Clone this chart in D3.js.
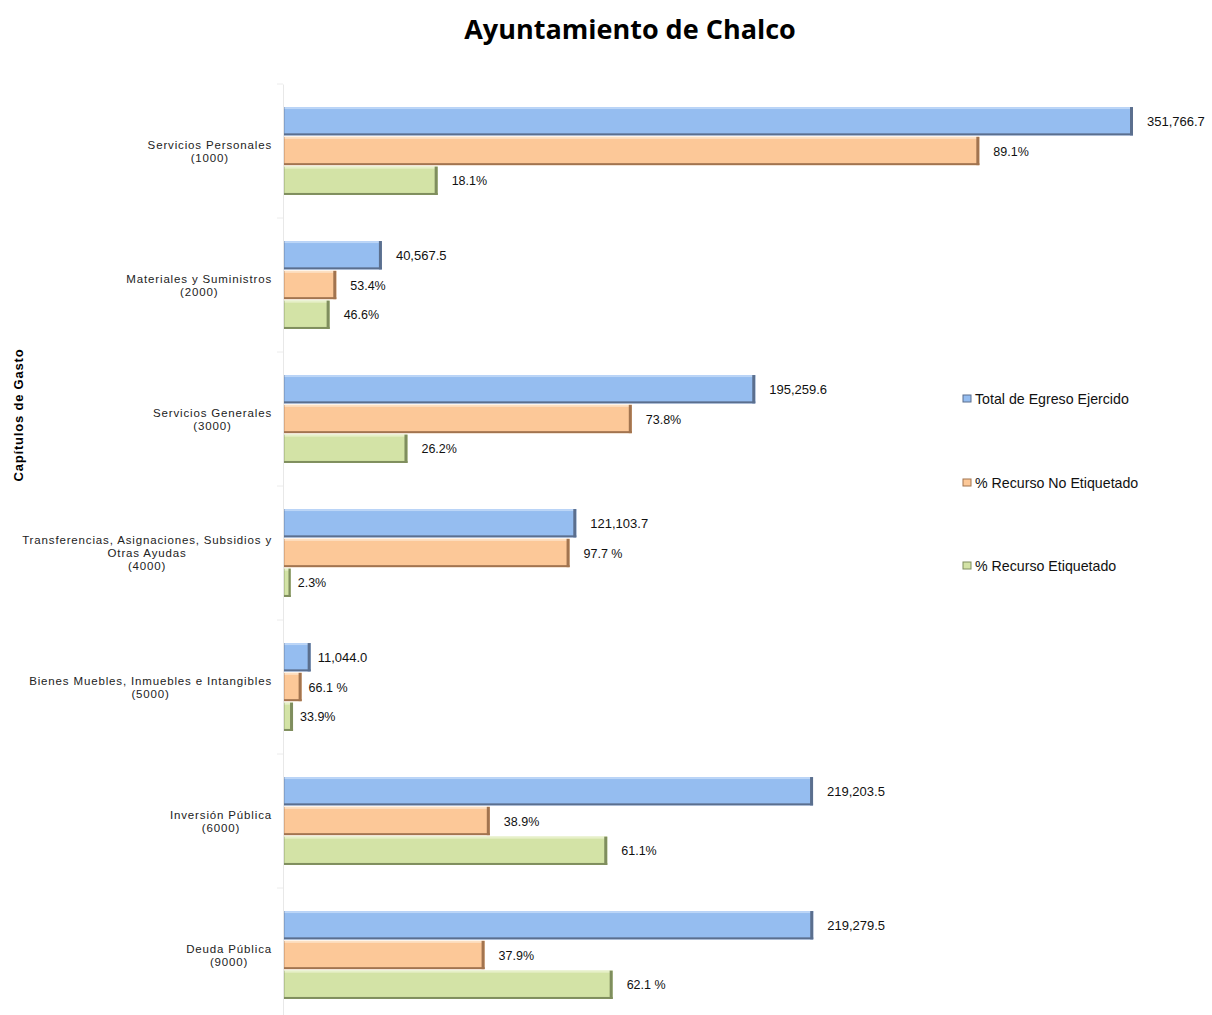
<!DOCTYPE html>
<html>
<head>
<meta charset="utf-8">
<script src="https://cdn.jsdelivr.net/npm/d3@7"></script>
<style>
  html, body { margin: 0; padding: 0; background: #ffffff; }
  svg { display: block; }
</style>
</head>
<body>
<svg id="chart" width="1212" height="1015"></svg>
<script>
// ---------- DATA ----------
const categories = [
  "Servicios Personales|(1000)",
  "Materiales y Suministros|(2000)",
  "Servicios Generales|(3000)",
  "Transferencias, Asignaciones, Subsidios y|Otras Ayudas|(4000)",
  "Bienes Muebles, Inmuebles e Intangibles|(5000)",
  "Inversión Pública|(6000)",
  "Deuda Pública|(9000)"
];
const seriesNames = ["Total de Egreso Ejercido", "% Recurso No Etiquetado", "% Recurso Etiquetado"];
// Total expenditure (thousands of pesos)
const totalEgreso = [351766.7, 40567.5, 195259.6, 121103.7, 11044.0, 219203.5, 219279.5];
// share of total drawn as bar length (percent of total)
const pctNoEtiquetado = [81.9, 53.4, 73.8, 97.7, 66.1, 38.9, 37.9];
const pctEtiquetado = [18.1, 46.6, 26.2, 2.3, 33.9, 61.1, 62.1];
// labels as printed
const labelsTotal = ["351,766.7", "40,567.5", "195,259.6", "121,103.7", "11,044.0", "219,203.5", "219,279.5"];
const labelsNoEtiquetado = ["89.1%", "53.4%", "73.8%", "97.7 %", "66.1 %", "38.9%", "37.9%"];
const labelsEtiquetado = ["18.1%", "46.6%", "26.2%", "2.3%", "33.9%", "61.1%", "62.1 %"];
const chartTitle = "Ayuntamiento de Chalco";
const yAxisTitle = "Capítulos de Gasto";

// ---------- LAYOUT ----------
const svg = d3.select("#chart");
const colors = [
  {fill: "#95bdf0", light: "#bcd6f7", dark: "#5b6f8e"},
  {fill: "#fcc898", light: "#fde0c2", dark: "#a2744f"},
  {fill: "#d3e3a6", light: "#e6f0c8", dark: "#7f8e5e"}
];

const plotLeft = 284, plotRight = 1133, plotTop = 84, plotBottom = 1022;
const x = d3.scaleLinear().domain([0, d3.max(totalEgreso)]).range([plotLeft, plotRight]);
const y = d3.scaleBand().domain(categories).range([plotTop, plotBottom]).padding(0);
const ySub = d3.scaleBand().domain(seriesNames)
  .range([y.bandwidth() * 0.172, y.bandwidth() * 0.828]).paddingInner(0.05);

const rows = categories.map((c, i) => ({
  cat: c,
  bars: [
    {s: seriesNames[0], v: totalEgreso[i], label: labelsTotal[i], k: 0},
    {s: seriesNames[1], v: totalEgreso[i] * pctNoEtiquetado[i] / 100, label: labelsNoEtiquetado[i], k: 1},
    {s: seriesNames[2], v: totalEgreso[i] * pctEtiquetado[i] / 100, label: labelsEtiquetado[i], k: 2}
  ]
}));

// title
svg.append("text")
  .attr("x", 630).attr("y", 39)
  .attr("text-anchor", "middle")
  .attr("font-family", "'Open Sans', sans-serif")
  .attr("font-weight", "bold")
  .attr("font-size", 27)
  .attr("fill", "#000")
  .text(chartTitle);

// y axis title
svg.append("text")
  .attr("transform", "translate(23,415) rotate(-90)")
  .attr("text-anchor", "middle")
  .attr("font-family", "'Liberation Sans', Arial, sans-serif")
  .attr("font-weight", "bold")
  .attr("font-size", 13)
  .attr("letter-spacing", 0.8)
  .attr("fill", "#000")
  .text(yAxisTitle);

// axis line
const axisG = svg.append("g").attr("transform", `translate(${plotLeft - 1},0)`);
const yAxis = d3.axisLeft(y).tickSize(0).tickFormat("");
axisG.call(yAxis);
axisG.select(".domain").attr("stroke", "#e8e8e8").attr("stroke-width", 1);
// boundary tick marks between categories
const bounds = categories.map(c => y(c)).concat([plotBottom]);
axisG.selectAll("line.bt").data(bounds).join("line")
  .attr("class", "bt")
  .attr("x1", -6).attr("x2", 0)
  .attr("y1", d => d).attr("y2", d => d)
  .attr("stroke", "#ececec");

// category labels
const labG = svg.append("g");
rows.forEach(r => {
  const lines = r.cat.split("|");
  const cy = y(r.cat) + y.bandwidth() / 2;
  const lh = 13;
  const t = labG.append("text")
    .attr("font-family", "'Liberation Sans', Arial, sans-serif")
    .attr("font-size", 11.5)
    .attr("letter-spacing", 0.85)
    .attr("fill", "#222")
    .attr("text-anchor", "middle");
  lines.forEach((ln, j) => {
    t.append("tspan")
      .attr("y", cy - (lines.length - 1) * lh / 2 + j * lh + 4)
      .text(ln);
  });
  // compute widest line to right-align the block at x=272
  let maxW = 0;
  t.selectAll("tspan").each(function () { maxW = Math.max(maxW, this.getComputedTextLength()); });
  t.selectAll("tspan").attr("x", 272 - maxW / 2);
});

// bars
const groups = svg.append("g").selectAll("g.row").data(rows).join("g")
  .attr("class", "row")
  .attr("transform", d => `translate(0,${y(d.cat)})`);

groups.each(function (r) {
  const g = d3.select(this);
  r.bars.forEach(b => {
    const c = colors[b.k];
    const by = ySub(b.s), bh = ySub.bandwidth();
    const bx = x(0), bw = x(b.v) - x(0);
    g.append("rect").attr("x", bx).attr("y", by).attr("width", bw).attr("height", bh).attr("fill", c.fill);
    g.append("rect").attr("x", bx).attr("y", by).attr("width", bw).attr("height", 2).attr("fill", c.light);
    g.append("rect").attr("x", bx).attr("y", by + bh - 2).attr("width", bw).attr("height", 2).attr("fill", c.dark);
    g.append("rect").attr("x", bx + bw - Math.min(3, bw / 3)).attr("y", by).attr("width", Math.min(3, bw / 3)).attr("height", bh).attr("fill", c.dark);
    g.append("rect").attr("x", bx).attr("y", by).attr("width", 1).attr("height", bh).attr("fill", c.dark).attr("opacity", 0.35);
    g.append("text")
      .attr("x", x(b.v) + (bw < 30 ? 7 : 14))
      .attr("y", by + bh / 2 + 4.5)
      .attr("font-family", "'Liberation Sans', Arial, sans-serif")
      .attr("font-size", b.k === 0 ? 13 : 12.5)
      .attr("fill", "#111")
      .text(b.label);
  });
});

// legend
const legY = [399, 483, 566];
const leg = svg.append("g");
seriesNames.forEach((s, i) => {
  const c = colors[i];
  leg.append("rect").attr("x", 963).attr("y", legY[i] - 4).attr("width", 8).attr("height", 7).attr("fill", c.fill)
    .attr("stroke", c.dark).attr("stroke-width", 1);
  leg.append("text")
    .attr("x", 975).attr("y", legY[i] + 5)
    .attr("font-family", "'Liberation Sans', Arial, sans-serif")
    .attr("font-size", 14.2)
    .attr("fill", "#111")
    .text(s);
});
</script>
</body>
</html>
